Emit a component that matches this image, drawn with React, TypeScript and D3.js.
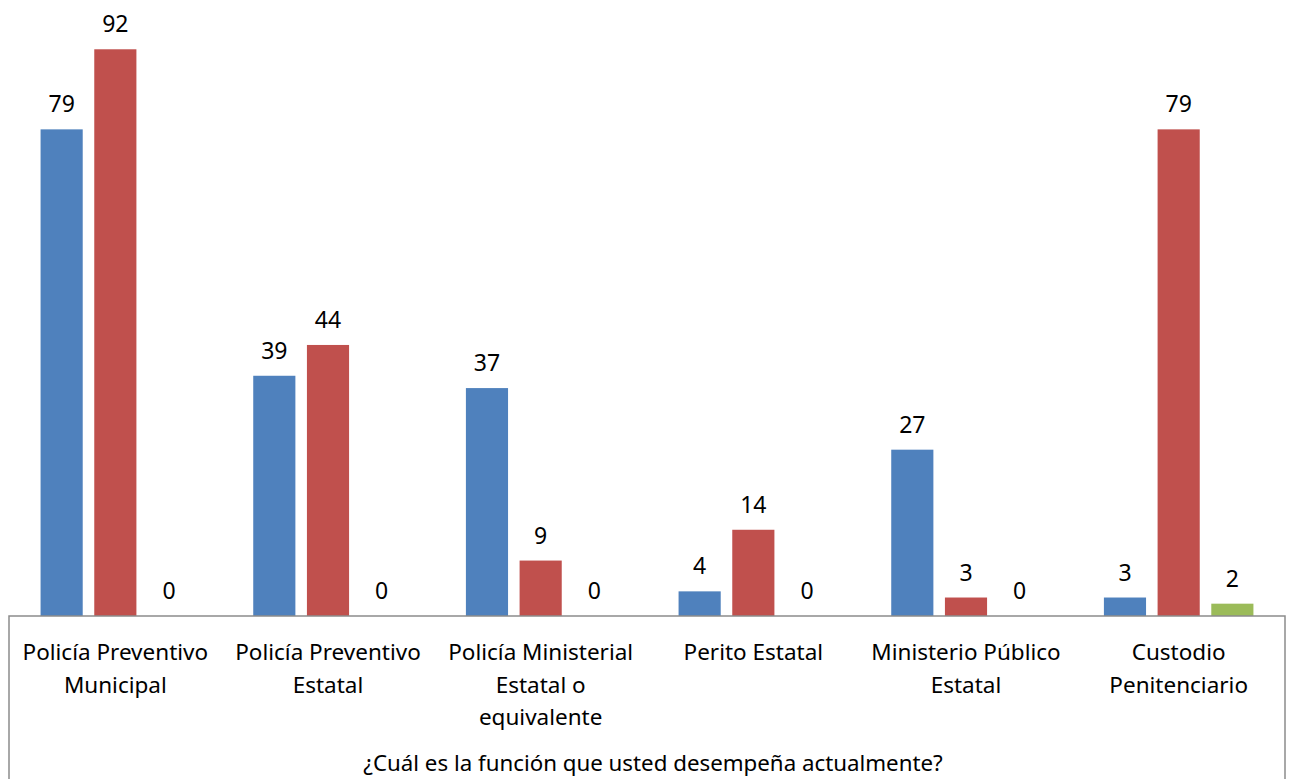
import React, { useEffect, useRef } from 'react';
import * as d3 from 'd3';

// categorías y series
const categories = [
    ['Policía Preventivo', 'Municipal'],
    ['Policía Preventivo', 'Estatal'],
    ['Policía Ministerial', 'Estatal o', 'equivalente'],
    ['Perito Estatal'],
    ['Ministerio Público', 'Estatal'],
    ['Custodio', 'Penitenciario'],
];
const seriesNames = ['s1', 's2', 's3'];
const seriesBlue = [79, 39, 37, 4, 27, 3];
const seriesRed = [92, 44, 9, 14, 3, 79];
const seriesGreen = [0, 0, 0, 0, 0, 2];
const colors = ['#4F81BD', '#C0504D', '#9BBB59'];
const axisTitle = '¿Cuál es la función que usted desempeña actualmente?';

const App: React.FC = () => {
    const svgRef = useRef<SVGSVGElement>(null);

    useEffect(() => {
        if (!svgRef.current) return;
        const svg = d3.select(svgRef.current);
        svg.selectAll('*').remove();

        const left = 9;
        const right = 1285;
        const baseline = 616;
        const font = '"Noto Sans", "Open Sans", sans-serif';

        const x0 = d3.scaleBand<number>()
            .domain(d3.range(categories.length))
            .range([left, right])
            .padding(0);

        const x1 = d3.scaleBand<string>()
            .domain(seriesNames)
            .range([0, x0.bandwidth()])
            .paddingInner(0.215)
            .paddingOuter(0.588);

        const y = d3.scaleLinear().domain([0, 100]).range([baseline, 0]);

        const data = [seriesBlue, seriesRed, seriesGreen];

        // barras y etiquetas
        data.forEach((values, si) => {
            values.forEach((v, ci) => {
                const bx = x0(ci)! + x1(seriesNames[si])!;
                const bw = x1.bandwidth();
                if (v > 0) {
                    svg.append('rect')
                        .attr('x', bx)
                        .attr('y', y(v))
                        .attr('width', bw)
                        .attr('height', baseline - y(v))
                        .attr('fill', colors[si]);
                }
                svg.append('text')
                    .attr('x', bx + bw / 2)
                    .attr('y', y(v) - 17)
                    .attr('text-anchor', 'middle')
                    .attr('font-family', font)
                    .attr('font-size', '23px')
                    .attr('fill', '#000')
                    .text(v);
            });
        });

        // marco de la tabla de categorías
        svg.append('path')
            .attr('d', `M${left},790 L${left},${baseline} L${right},${baseline} L${right},790`)
            .attr('fill', 'none')
            .attr('stroke', '#8c8c8c')
            .attr('stroke-width', 1.5);

        // etiquetas de categorías
        categories.forEach((lines, ci) => {
            const cx = x0(ci)! + x0.bandwidth() / 2;
            lines.forEach((line, li) => {
                svg.append('text')
                    .attr('x', cx)
                    .attr('y', 660 + li * 32.5)
                    .attr('text-anchor', 'middle')
                    .attr('font-family', font)
                    .attr('font-size', '22.5px')
                    .attr('fill', '#000')
                    .text(line);
            });
        });

        // título del eje
        svg.append('text')
            .attr('x', (left + right) / 2 + 6)
            .attr('y', 771)
            .attr('text-anchor', 'middle')
            .attr('font-family', font)
            .attr('font-size', '22.3px')
            .attr('fill', '#000')
            .text(axisTitle);
    }, []);

    return (
        <svg
            ref={svgRef}
            width="1290"
            height="779"
            style={{ position: 'absolute', left: 0, top: 0, background: '#fff' }}
        ></svg>
    );
};

export default App;
